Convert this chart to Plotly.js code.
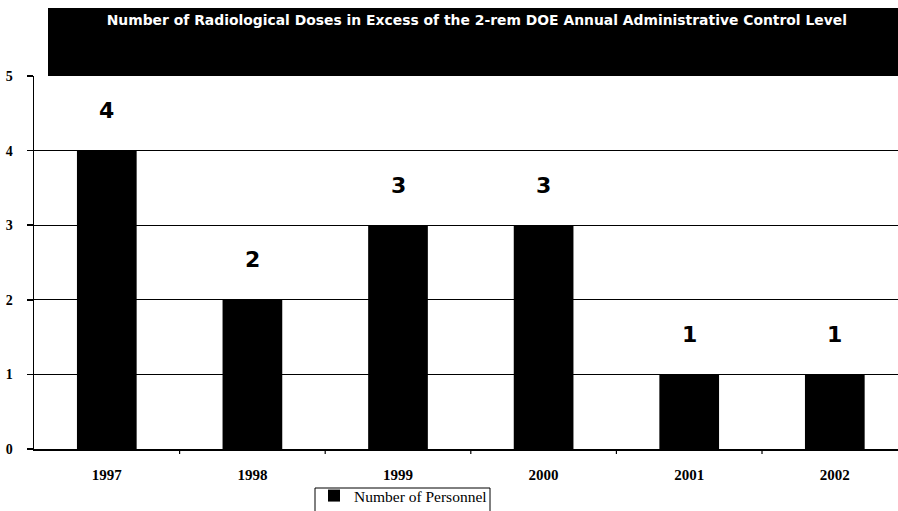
<!DOCTYPE html>
<html>
<head>
<meta charset="utf-8">
<script src="https://cdn.plot.ly/plotly-3.0.1.min.js"></script>
<style>html,body{margin:0;padding:0;background:#fff;}#chart{width:898px;height:511px;}</style>
</head>
<body>
<div id="chart"></div>
<script>
const years = ["1997", "1998", "1999", "2000", "2001", "2002"];
const personnel = [4, 2, 3, 3, 1, 1];
const seriesName = "Number of Personnel";
const chartTitle = "Number of Radiological Doses in Excess of the 2-rem DOE Annual Administrative Control Level";
const yTicks = [0, 1, 2, 3, 4, 5];

const trace = {
  type: 'bar',
  x: years.map((_, i) => i),
  y: personnel,
  name: seriesName,
  width: 0.41,
  marker: {color: '#000000', line: {width: 0}},
  hoverinfo: 'none'
};

const annotations = personnel.map((v, i) => ({
  x: i, y: v, xref: 'x', yref: 'y',
  text: '<b>' + String(v) + '</b>', showarrow: false, yshift: 40,
  font: {family: 'DejaVu Sans, Verdana, sans-serif', size: 22, color: '#000'}
}));

const PX = 864, PY = 373;
const layout = {
  width: 898, height: 511,
  margin: {l: 34, r: 0, t: 76, b: 62, autoexpand: false},
  paper_bgcolor: '#fff', plot_bgcolor: '#fff',
  title: {
    text: '<b>' + chartTitle + '</b>',
    font: {family: 'DejaVu Sans, sans-serif', size: 13.9, color: '#fff'},
    xref: 'container', yref: 'container', x: 0.531, xanchor: 'center', y: 0.96, yanchor: 'middle'
  },
  xaxis: {
    range: [-0.5, 5.434],
    tickmode: 'array', tickvals: years.map((_, i) => i), ticktext: years.map(y => '<b>' + y + '</b>'),
    ticks: '', showgrid: false, zeroline: false,
    showline: true, linecolor: '#000', linewidth: 1.5,
    tickfont: {family: 'Liberation Serif, Times New Roman, serif', size: 15, color: '#000'},
    ticklabelstandoff: 11, fixedrange: true
  },
  yaxis: {
    range: [0, 5],
    tickmode: 'array', tickvals: yTicks, ticktext: yTicks.map(t => '<b>' + t + '</b>'),
    ticks: 'outside', ticklen: 6, tickcolor: '#000', tickwidth: 1.5,
    showgrid: true, gridcolor: '#000', gridwidth: 1.2,
    zeroline: false, showline: true, linecolor: '#000', linewidth: 1.5,
    tickfont: {family: 'Liberation Serif, Times New Roman, serif', size: 14, color: '#000'},
    ticklabelstandoff: 11, fixedrange: true
  },
  showlegend: true,
  legend: {
    x: (314 - 34) / PX, xanchor: 'left', y: (449 - 479) / PY, yanchor: 'top', orientation: 'h',
    borderwidth: 0, bgcolor: 'rgba(0,0,0,0)',
    font: {family: 'Liberation Serif, Times New Roman, serif', size: 15.5, color: '#000'},
    itemwidth: 30
  },
  shapes: [
    {type: 'rect', xref: 'paper', yref: 'paper',
     x0: (48 - 34) / PX, x1: 1.0, y0: 1.0, y1: 1 + 68 / PY,
     fillcolor: '#000', line: {width: 0}, layer: 'below'},
    {type: 'rect', xref: 'paper', yref: 'paper',
     x0: (315 - 34) / PX, x1: (490 - 34) / PX, y0: (449 - 488) / PY, y1: (449 - 520) / PY,
     fillcolor: 'rgba(0,0,0,0)', line: {color: '#000', width: 1}, layer: 'above'}
  ].concat(years.slice(1).map((_, i) => ({
    type: 'line', xref: 'x', yref: 'paper', x0: i + 0.5, x1: i + 0.5, y0: 0, y1: -5 / PY,
    line: {color: '#000', width: 1.2}
  }))),
  annotations: annotations
};

Plotly.newPlot('chart', [trace], layout, {staticPlot: true, displayModeBar: false});
</script>
</body>
</html>
